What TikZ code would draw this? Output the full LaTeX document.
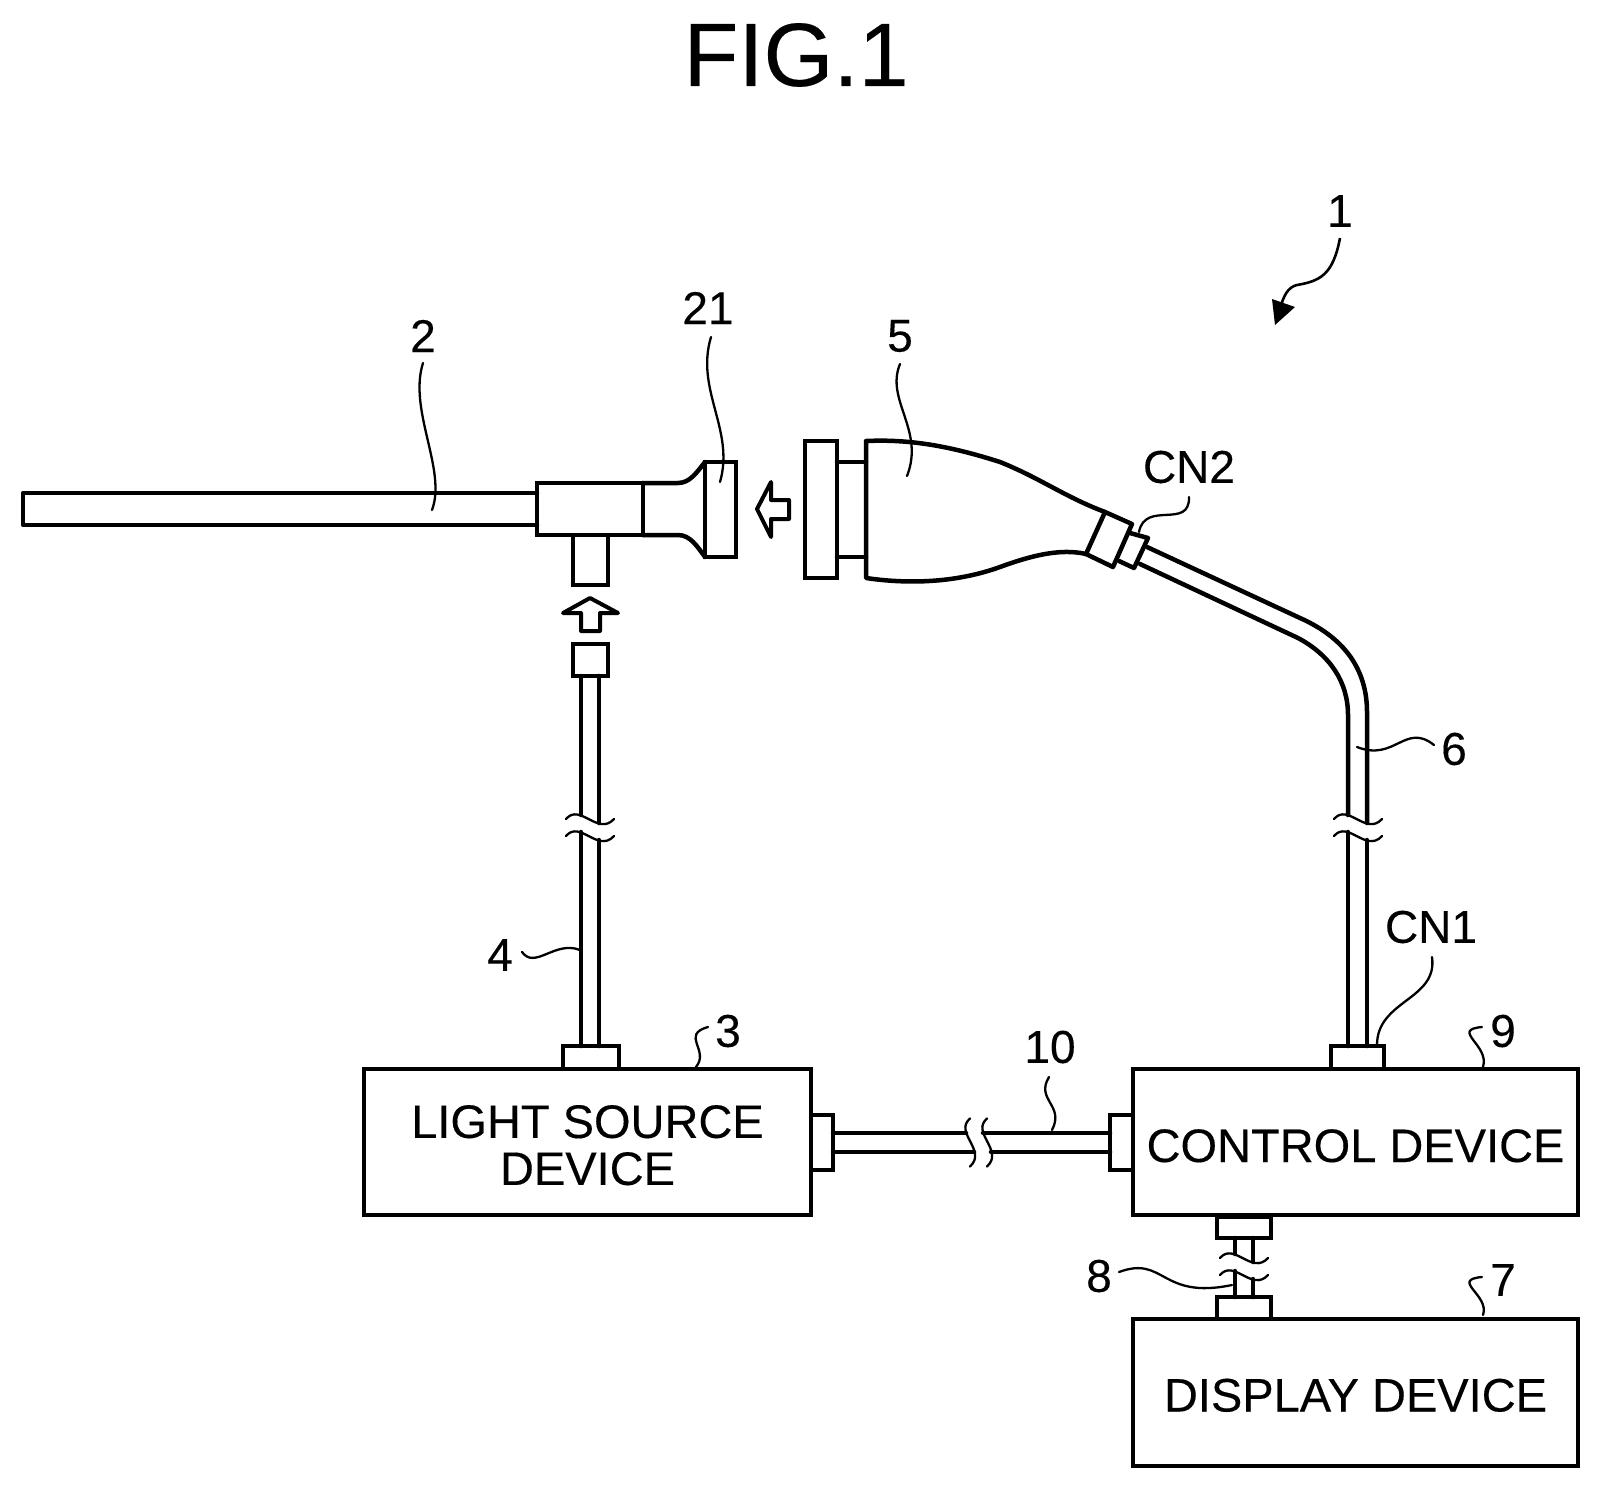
\documentclass[tikz,border=0pt]{standalone}
\usepackage{fontspec}
\setmainfont[FakeBold=0.25]{Liberation Sans}
\tikzset{
  main/.style={line width=4.5pt,line join=round,line cap=round},
  thin leader/.style={line width=2.3pt,line cap=round},
  devbox/.style={draw,line width=4.5pt,rectangle,inner sep=0pt,outer sep=0pt,align=center,font=\fontsize{47}{47}\selectfont},
  part/.style={draw,line width=4.5pt,rectangle,inner sep=0pt,outer sep=0pt},
  lab/.style={inner sep=0pt,outer sep=0pt,font=\fontsize{46}{46}\selectfont},
  breakmark/.pic={
    \draw[thin leader] (-24,-8.5) .. controls (-10,-25) and (8,9) .. (24,-8.5);
    \draw[thin leader] (-24,8.5) .. controls (-10,-8) and (8,26) .. (24,8.5);
  },
  breakmarkh/.pic={
    \draw[thin leader] (-8.5,-24) .. controls (-25,-10) and (9,8) .. (-8.5,24);
    \draw[thin leader] (8.5,-24) .. controls (-8,-10) and (26,8) .. (8.5,24);
  }
}
\begin{document}
\begin{tikzpicture}[x=1pt,y=-1pt]
\useasboundingbox[fill=white] (0,0) rectangle (1600,1489);
% title
\node[inner sep=0pt,font=\fontsize{90}{90}\selectfont] (title) at (796,55) {FIG.1};
% devices
\node[devbox,minimum width=447pt,minimum height=146pt,text depth=0pt] (light) at (587.5,1142) {\raisebox{-6pt}{LIGHT SOURCE}\\\raisebox{-6pt}{DEVICE}};
\node[devbox,minimum width=445pt,minimum height=146pt,text height=34pt,text depth=0pt] (control) at (1355.5,1142) {\smash{\raisebox{-3pt}{CONTROL DEVICE}}};
\node[devbox,minimum width=445pt,minimum height=147pt,text height=34pt,text depth=0pt] (display) at (1355.5,1392.5) {\smash{\raisebox{-2pt}{DISPLAY DEVICE}}};
% small connectors
\node[part,minimum width=56pt,minimum height=23pt] (ltop) at (591,1057.5) {};
\node[part,minimum width=22pt,minimum height=55pt] (lright) at (822,1142.5) {};
\node[part,minimum width=23pt,minimum height=55pt] (cleft) at (1121.5,1142.5) {};
\node[part,minimum width=53pt,minimum height=23pt] (ctop) at (1357.5,1057.5) {};
\node[part,minimum width=54pt,minimum height=21pt] (cbot) at (1244,1227.5) {};
\node[part,minimum width=54pt,minimum height=22pt] (dtop) at (1244,1308) {};
\node[part,minimum width=35pt,minimum height=32pt] (lplug) at (590.5,660) {};
% endoscope
\node[part,minimum width=106pt,minimum height=52pt] (barrel) at (590,509) {};
\node[part,minimum width=35pt,minimum height=50pt] (post) at (590.5,560) {};
\node[part,minimum width=31pt,minimum height=95pt] (eye) at (720.5,509.5) {};
\coordinate (tubeL) at (23,493);
\draw[main] (537,493) -- (tubeL) -- (23,525) -- (537,525);
\draw[main] (643,483) -- (678,483) .. controls (690,483) and (697,472) .. (eye.north west);
\draw[main] (643,535) -- (678,535) .. controls (690,535) and (697,546) .. (eye.south west);
\draw[main] (643,483) -- (643,535);
% camera head
\node[part,minimum width=32pt,minimum height=137pt] (plate) at (821,509.5) {};
\coordinate (headTL) at (866,441);
\coordinate (headBL) at (866,578);
\draw[main] (837,462) -- (866,462);
\draw[main] (837,557) -- (866,557);
\draw[main] (1105,512) .. controls (1065,497) and (1040,478) .. (1000,462) .. controls (950,446) and (910,439) .. (headTL) -- (headBL) .. controls (900,583) and (950,585) .. (1000,567) .. controls (1030,556) and (1060,548) .. (1086,554);
\draw[main] (1105,512) -- (1132,524) -- (1113,567) -- (1086,554) -- cycle;
\draw[main] (1130,533) -- (1148,538) -- (1134,568) -- (1119,561);
% transmission cable 6
\coordinate (c6a) at (1367,823);
\coordinate (c6b) at (1348,815);
\coordinate (c6c) at (1367,840);
\coordinate (c6d) at (1348,832);
\draw[main] (1147,547) -- (1300,618) .. controls (1345,638) and (1367,670) .. (1367,712) -- (c6a);
\draw[main] (1140,564) -- (1298,638) .. controls (1330,655) and (1348,682) .. (1348,715) -- (c6b);
\draw[main] (c6c) -- (1367,1046);
\draw[main] (c6d) -- (1348,1046);
\pic at (1358,827.5) {breakmark};
% light guide 4
\draw[main] (581,676) -- (581,815);
\draw[main] (599,676) -- (599,823);
\draw[main] (581,832) -- (581,1046);
\draw[main] (599,840) -- (599,1046);
\pic at (590,827.5) {breakmark};
% cable 10
\draw[main] (833,1133) -- (966,1133);
\draw[main] (833,1152) -- (974,1152);
\draw[main] (983,1133) -- (1110,1133);
\draw[main] (991,1152) -- (1110,1152);
\pic at (978.5,1142.5) {breakmarkh};
% cable 8
\draw[main] (1235,1238) -- (1235,1254);
\draw[main] (1253,1238) -- (1253,1262);
\draw[main] (1235,1271) -- (1235,1297);
\draw[main] (1253,1279) -- (1253,1297);
\pic at (1244,1266.5) {breakmark};
% block arrows
\draw[main,line width=4pt] (757,509) -- (771,482) -- (771,500) -- (789,500) -- (789,519) -- (771,519) -- (771,537) -- cycle;
\draw[main,line width=4pt] (590,598) -- (618,613) -- (600,613) -- (600,631) -- (581,631) -- (581,613) -- (563,613) -- cycle;
% labels
\node[lab] (n1) at (1340,211) {1};
\node[lab] (n2) at (423,336) {2};
\node[lab] (n21) at (708,308) {21};
\node[lab] (n5) at (900,336) {5};
\node[lab] (nCN2) at (1189,467) {CN2};
\node[lab] (n6) at (1454,749) {6};
\node[lab] (n4) at (500,955) {4};
\node[lab] (n3) at (728,1031) {3};
\node[lab] (n10) at (1050,1047) {10};
\node[lab] (nCN1) at (1431,927) {CN1};
\node[lab] (n9) at (1503,1031) {9};
\node[lab] (n8) at (1099,1276) {8};
\node[lab] (n7) at (1503,1280) {7};
% leaders
\draw[thin leader] (423,363) .. controls (408,410) and (447,470) .. (432,510);
\draw[thin leader] (711,337) .. controls (695,390) and (735,430) .. (720,482);
\draw[thin leader] (900,364) .. controls (885,400) and (925,430) .. (907,476);
\draw[thin leader] (1189,497) .. controls (1190,530) and (1145,500) .. (1139,532);
\draw[thin leader] (1434,745) .. controls (1405,722) and (1395,762) .. (1357,747);
\draw[thin leader] (522,952) .. controls (535,970) and (555,940) .. (580,950);
\draw[thin leader] (708,1027) .. controls (680,1035) and (710,1050) .. (696,1067);
\draw[thin leader] (1049,1077) .. controls (1035,1100) and (1065,1105) .. (1052,1130);
\draw[thin leader] (1432,957) .. controls (1438,1000) and (1377,1000) .. (1377,1045);
\draw[thin leader] (1482,1027) .. controls (1450,1030) and (1490,1045) .. (1483,1067);
\draw[thin leader] (1119,1272) .. controls (1165,1255) and (1160,1300) .. (1232,1285);
\draw[thin leader] (1482,1277) .. controls (1450,1280) and (1490,1295) .. (1483,1315);
% assembly arrow
\draw[line width=2.6pt] (1340,238) .. controls (1333,275) and (1320,281) .. (1297,285) .. controls (1288,287) and (1283,296) .. (1280,310);
\fill (1275,325) -- (1272,299) -- (1295,307) -- cycle;
\end{tikzpicture}
\end{document}
